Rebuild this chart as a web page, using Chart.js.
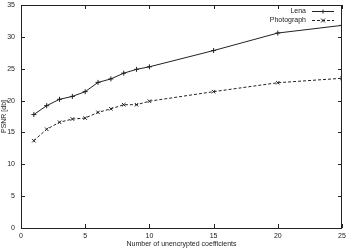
<!DOCTYPE html>
<html>
<head>
<meta charset="utf-8">
<script src="https://cdn.jsdelivr.net/npm/chart.js@4"></script>
<style>
  html, body { margin: 0; padding: 0; background: #fff; }
  #c { display: block; }
</style>
</head>
<body>
<canvas id="c" width="352" height="251"></canvas>
<script>
// values
const coeffs = [1, 2, 3, 4, 5, 6, 7, 8, 9, 10, 15, 20, 25];
const lena = [17.8, 19.2, 20.2, 20.65, 21.4, 22.85, 23.4, 24.3, 24.9, 25.3, 27.85, 30.6, 31.8];
const photograph = [13.7, 15.5, 16.6, 17.1, 17.25, 18.15, 18.7, 19.35, 19.35, 19.9, 21.4, 22.8, 23.5];
const xTicks = [0, 5, 10, 15, 20, 25];
const yTicks = [0, 5, 10, 15, 20, 25, 30, 35];

const ink = '#222';
const font = { family: 'Liberation Sans, Arial, sans-serif', size: 7 };

function toPoints(ys) {
    return coeffs.map((x, i) => ({ x: x, y: ys[i] }));
}

// gnuplot-ish frame: full box, inward ticks on every side, legend top right
const framePlugin = {
    id: 'frame',
    afterDatasetsDraw(chart) {
        const ctx = chart.ctx;
        const a = chart.chartArea;
        const xs = chart.scales.x, ys = chart.scales.y;
        const len = 4;
        ctx.save();
        ctx.strokeStyle = ink;
        ctx.lineWidth = 1;
        ctx.strokeRect(a.left + 0.5, a.top + 0.5, a.right - a.left - 1, a.bottom - a.top);
        ctx.beginPath();
        xTicks.forEach(v => {
            const px = Math.round(xs.getPixelForValue(v)) + 0.5;
            ctx.moveTo(px, a.bottom); ctx.lineTo(px, a.bottom - len);
            ctx.moveTo(px, a.top); ctx.lineTo(px, a.top + len);
        });
        yTicks.forEach(v => {
            const py = Math.round(ys.getPixelForValue(v)) + 0.5;
            ctx.moveTo(a.left, py); ctx.lineTo(a.left + len, py);
            ctx.moveTo(a.right, py); ctx.lineTo(a.right - len, py);
        });
        ctx.stroke();

        // legend
        ctx.font = font.size + 'px ' + font.family;
        ctx.fillStyle = ink;
        ctx.textAlign = 'right';
        ctx.textBaseline = 'middle';
        chart.data.datasets.forEach((ds, i) => {
            const y = 11.5 + i * 9;
            ctx.fillText(ds.label, 306, y);
            ctx.beginPath();
            ctx.setLineDash(ds.borderDash || []);
            ctx.moveTo(312, y); ctx.lineTo(334, y);
            ctx.stroke();
            ctx.setLineDash([]);
            const m = 2;
            ctx.beginPath();
            if (ds.pointStyle === 'cross') {
                ctx.moveTo(323 - m, y); ctx.lineTo(323 + m, y);
                ctx.moveTo(323, y - m); ctx.lineTo(323, y + m);
            } else {
                ctx.moveTo(323 - m, y - m); ctx.lineTo(323 + m, y + m);
                ctx.moveTo(323 - m, y + m); ctx.lineTo(323 + m, y - m);
            }
            ctx.stroke();
        });
        ctx.restore();
    }
};

new Chart(document.getElementById('c').getContext('2d'), {
    type: 'scatter',
    data: {
        datasets: [{
            label: 'Lena',
            data: toPoints(lena),
            showLine: true,
            borderColor: ink,
            borderWidth: 1,
            pointStyle: 'cross',
            pointRadius: 2.5,
            pointBorderColor: ink,
            pointBorderWidth: 1
        }, {
            label: 'Photograph',
            data: toPoints(photograph),
            showLine: true,
            borderColor: ink,
            borderWidth: 1,
            borderDash: [3, 2],
            pointStyle: 'crossRot',
            pointRadius: 2.5,
            pointBorderColor: ink,
            pointBorderWidth: 1
        }]
    },
    options: {
        responsive: false,
        animation: false,
        devicePixelRatio: 1,
        layout: { padding: { top: 4, right: 10, left: 0, bottom: 0 } },
        plugins: { legend: { display: false }, tooltip: { enabled: false } },
        scales: {
            x: {
                type: 'linear', min: 0, max: 25,
                afterFit(s) { s.height = 23; s.paddingLeft = 0; s.paddingRight = 0; },
                afterBuildTicks(s) { s.ticks = xTicks.map(v => ({ value: v })); },
                grid: { display: false, drawTicks: false },
                border: { display: false },
                ticks: { color: ink, font: font, padding: 4, maxRotation: 0 },
                title: { display: true, text: 'Number of unencrypted coefficients', color: ink, font: font, padding: { top: 0, bottom: 3 } }
            },
            y: {
                type: 'linear', min: 0, max: 35,
                afterFit(s) { s.width = 21; s.paddingTop = 0; s.paddingBottom = 0; },
                afterBuildTicks(s) { s.ticks = yTicks.map(v => ({ value: v })); },
                grid: { display: false, drawTicks: false },
                border: { display: false },
                ticks: { color: ink, font: font, padding: 6 },
                title: { display: true, text: 'PSNR [db]', color: ink, font: font, padding: { top: 0, bottom: 0 } }
            }
        }
    },
    plugins: [framePlugin]
});
</script>
</body>
</html>
